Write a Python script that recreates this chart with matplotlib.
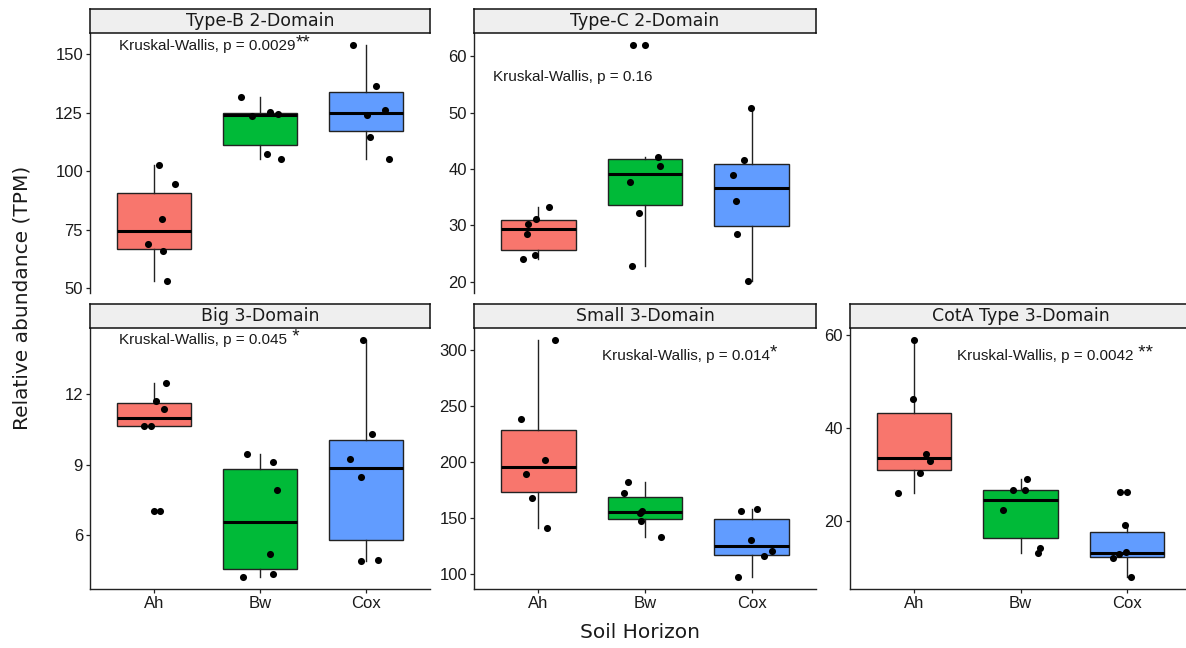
import numpy as np
import matplotlib
matplotlib.use("Agg")
import matplotlib.pyplot as plt

# Data (TPM per sample, per soil horizon)
horizons = ["Ah", "Bw", "Cox"]
colors = ["#F8766D", "#00BA38", "#619CFF"]

titles = ["Type-B 2-Domain", "Type-C 2-Domain", "Big 3-Domain",
          "Small 3-Domain", "CotA Type 3-Domain"]

typeb_ah = [102.7, 94.3, 79.5, 68.9, 66.0, 52.9]
typeb_bw = [131.5, 123.4, 125.2, 124.6, 107.3, 105.0]
typeb_cox = [154.0, 136.3, 123.9, 126.1, 114.7, 105.1]

typec_ah = [24.06, 24.7, 28.4, 30.2, 31.15, 33.3]
typec_bw = [62.06, 42.15, 40.5, 37.7, 32.2, 22.8]
typec_cox = [50.78, 41.56, 38.95, 34.3, 28.5, 20.1]

big_ah = [12.49, 11.70, 11.37, 10.65, 10.65, 7.02]
big_bw = [9.48, 9.11, 7.95, 5.22, 4.37, 4.22]
big_cox = [14.32, 10.31, 9.24, 8.47, 4.90, 4.93]

small_ah = [308.95, 237.9, 201.5, 189.2, 167.7, 141.2]
small_bw = [182.4, 172.3, 156.1, 154.6, 147.5, 132.8]
small_cox = [155.8, 158.2, 129.9, 120.6, 115.5, 97.0]

cota_ah = [59.0, 46.3, 34.5, 32.9, 30.3, 26.0]
cota_bw = [29.0, 26.8, 26.7, 22.4, 14.3, 13.1]
cota_cox = [26.4, 19.2, 13.4, 13.0, 12.2, 8.0]

# horizontal jitter of each point
typeb_jit = [[0.047, 0.198, 0.075, -0.057, 0.088, 0.129],
             [-0.179, -0.072, 0.094, 0.173, 0.069, 0.194],
             [-0.126, 0.094, 0.006, 0.173, 0.035, 0.213]]
typec_jit = [[-0.145, -0.030, -0.108, -0.095, -0.023, 0.101],
             [-0.111, 0.12, 0.142, -0.145, -0.055, -0.117],
             [-0.011, -0.073, -0.179, -0.151, -0.136, -0.033]]
big_jit = [[0.119, 0.019, 0.097, -0.094, -0.028, 0.063],
           [-0.119, 0.125, 0.156, 0.097, 0.125, -0.163],
           [-0.028, 0.05, -0.153, -0.05, -0.05, 0.113]]
small_jit = [[0.154, -0.16, 0.064, -0.114, -0.061, 0.08],
             [-0.157, -0.201, -0.026, -0.045, -0.033, 0.154],
             [-0.098, 0.048, -0.008, 0.192, 0.117, -0.126]]
cota_jit = [[0.0, -0.009, 0.113, 0.153, 0.06, -0.15],
            [0.06, -0.072, 0.041, -0.166, 0.182, 0.163],
            [-0.067, -0.017, -0.011, -0.073, -0.13, 0.036]]

pvals = ["Kruskal-Wallis, p = 0.0029", "Kruskal-Wallis, p = 0.16",
         "Kruskal-Wallis, p = 0.045", "Kruskal-Wallis, p = 0.014",
         "Kruskal-Wallis, p = 0.0042"]
stars = ["**", "", " *", "*", " **"]
label_x = [0.673, 0.578, 0.676, 1.595, 1.40]
label_y = [153.5, 56.3, 14.32, 294.6, 55.5]

yticks = [[50, 75, 100, 125, 150], [20, 30, 40, 50, 60], [6, 9, 12],
          [100, 150, 200, 250, 300], [20, 40, 60]]

panels = [
    ([typeb_ah, typeb_bw, typeb_cox], typeb_jit),
    ([typec_ah, typec_bw, typec_cox], typec_jit),
    ([big_ah, big_bw, big_cox], big_jit),
    ([small_ah, small_bw, small_cox], small_jit),
    ([cota_ah, cota_bw, cota_cox], cota_jit),
]

# panel boxes in pixels: (left, top, right, bottom)
W, H = 1186, 648
boxes = [(90, 33, 430, 293), (474, 33, 816, 293),
         (90, 328, 430, 589), (474, 328, 816, 589), (850, 328, 1191, 589)]
strip_h = 24

fig = plt.figure(figsize=(W / 100, H / 100), dpi=100)


def px_axes(x0, y0, x1, y1):
    return fig.add_axes([x0 / W, 1 - y1 / H, (x1 - x0) / W, (y1 - y0) / H])


tick_font = "Liberation Sans"
for i, (groups, jit) in enumerate(panels):
    x0, y0, x1, y1 = boxes[i]
    ax = px_axes(x0, y0, x1, y1)
    pos = [1, 2, 3]
    bp = ax.boxplot(groups, positions=pos, widths=0.7, patch_artist=True,
                    whis=1.5, showcaps=False,
                    medianprops=dict(color="black", lw=2.2),
                    boxprops=dict(edgecolor="#222222", lw=1.0),
                    whiskerprops=dict(color="#222222", lw=1.0),
                    flierprops=dict(marker="o", markerfacecolor="black",
                                    markeredgewidth=0, markersize=5.1))
    for patch, c in zip(bp["boxes"], colors):
        patch.set_facecolor(c)
    for k, vals in enumerate(groups):
        xs = np.array(pos[k]) + np.array(jit[k])
        ax.scatter(xs, vals, s=26, color="black", zorder=4, linewidths=0)

    allv = np.concatenate(groups)
    lo, hi = allv.min(), allv.max()
    pad = (hi - lo) * 0.05
    ax.set_ylim(lo - pad, hi + pad)
    ax.set_xlim(0.4, 3.6)
    ax.set_yticks(yticks[i])
    ax.set_xticks(pos)
    for side in ["top", "right"]:
        ax.spines[side].set_visible(False)
    for side in ["left", "bottom"]:
        ax.spines[side].set_color("#222222")
        ax.spines[side].set_linewidth(1.0)
    ax.tick_params(length=3, width=0.9, color="#222222", pad=2,
                   labelsize=12, labelcolor="#1a1a1a")
    for lab in ax.get_yticklabels() + ax.get_xticklabels():
        lab.set_fontfamily(tick_font)
    if i < 2:
        ax.spines["bottom"].set_visible(False)
        ax.tick_params(axis="x", bottom=False, labelbottom=False)
    else:
        ax.set_xticklabels(horizons, fontfamily=tick_font)

    # facet strip
    sx = px_axes(x0, y0 - strip_h, x1, y0)
    sx.set_facecolor("#EFEFEF")
    sx.set_xticks([])
    sx.set_yticks([])
    for sp in sx.spines.values():
        sp.set_color("#111111")
        sp.set_linewidth(1.1)
    sx.text(0.5, 0.5, titles[i], ha="center", va="center", fontsize=12.5,
            family="DejaVu Sans", color="#1a1a1a", transform=sx.transAxes)

    t = ax.text(label_x[i], label_y[i], pvals[i], ha="left", va="center",
                fontsize=11, family=tick_font, color="#1a1a1a")
    if stars[i]:
        fig.canvas.draw()
        bb = t.get_window_extent(renderer=fig.canvas.get_renderer())
        inv = ax.transData.inverted()
        xe, ye = inv.transform((bb.x1, bb.y1))
        ax.annotate(stars[i], xy=(xe, ye), xytext=(0, 3),
                    textcoords="offset points", ha="left", va="top",
                    fontsize=13.5, family=tick_font, color="#1a1a1a",
                    annotation_clip=False)

fig.text(22 / W, 1 - 298 / H, "Relative abundance (TPM)", rotation=90,
         ha="center", va="center", fontsize=14.5, family="DejaVu Sans",
         color="#1a1a1a")
fig.text(640 / W, 1 - 633 / H, "Soil Horizon", ha="center", va="center",
         fontsize=14.5, family="DejaVu Sans", color="#1a1a1a")

fig.savefig("out.png", dpi=100, facecolor="white")
